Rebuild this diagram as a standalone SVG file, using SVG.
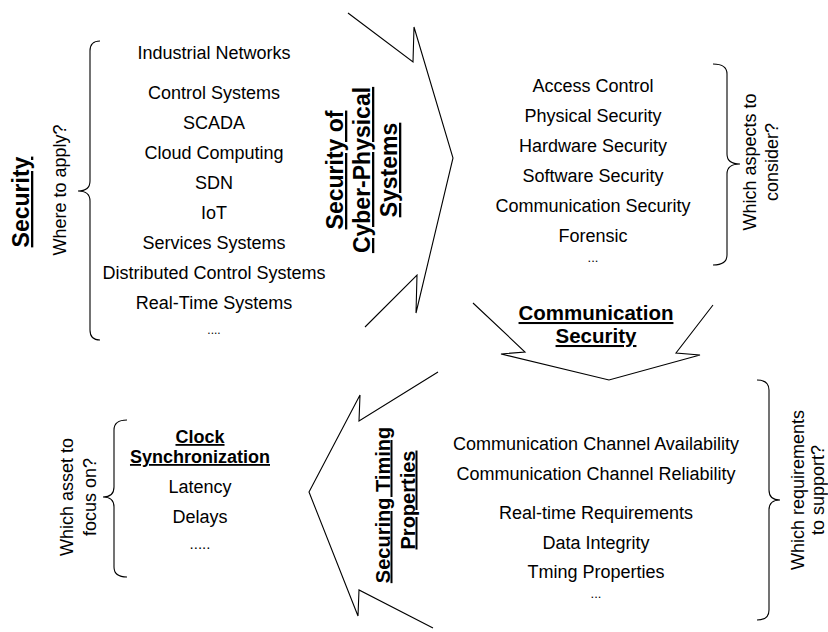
<svg xmlns="http://www.w3.org/2000/svg" width="828" height="632" viewBox="0 0 828 632">
  <style>
    text { font-family: "Liberation Sans", Arial, Helvetica, sans-serif; fill: #000; }
    .item { font-size: 18px; text-anchor: middle; }
    .q { font-size: 18px; text-anchor: middle; }
    .title { font-weight: bold; text-anchor: middle; text-decoration: underline; text-decoration-skip-ink: none; }
    .dots { text-anchor: middle; }
    .brace, .chevron { fill: none; stroke: #000; stroke-width: 1.1; stroke-linejoin: miter; }
  </style>
  <rect width="828" height="632" fill="#fff"/>

  <!-- big open chevron arrows linking the stages -->
  <g id="connectors">
    <polyline class="chevron" points="348,13 413,62 414,27 453,158 416,313 417,275 365,327"/>
    <polyline class="chevron" points="473,303 525,352 501,354 609,380 700,355 676,353 713,305"/>
    <polyline class="chevron" points="438,372 359,421 360,395 309,492 358,616 359,590 433,628"/>
  </g>

  <!-- Security: where to apply -->
  <g id="security">
    <text class="title" font-size="23" transform="translate(29,202) rotate(-90)">Security</text>
    <text class="q" transform="translate(66,190) rotate(-90)">Where to apply?</text>
    <path class="brace" d="M100,41 Q90,41 90,51 L90,181 Q90,191 78,191 Q90,191 90,201 L90,330 Q90,340 100,340"/>
    <text class="item" x="214" y="59">Industrial Networks</text>
    <text class="item" x="214" y="99">Control Systems</text>
    <text class="item" x="214" y="129">SCADA</text>
    <text class="item" x="214" y="159">Cloud Computing</text>
    <text class="item" x="214" y="189">SDN</text>
    <text class="item" x="214" y="219">IoT</text>
    <text class="item" x="214" y="249">Services Systems</text>
    <text class="item" x="214" y="279">Distributed Control Systems</text>
    <text class="item" x="214" y="309">Real-Time Systems</text>
    <text class="dots" font-size="12" x="214" y="334">....</text>
  </g>

  <!-- Security of Cyber-Physical Systems: which aspects -->
  <g id="cps-security">
    <text class="title" font-size="23" transform="translate(343,170) rotate(-90)"><tspan x="0" y="0">Security of</tspan><tspan x="0" y="27">Cyber-Physical</tspan><tspan x="0" y="54">Systems</tspan></text>
    <text class="item" x="593" y="92">Access Control</text>
    <text class="item" x="593" y="122">Physical Security</text>
    <text class="item" x="593" y="152">Hardware Security</text>
    <text class="item" x="593" y="182">Software Security</text>
    <text class="item" x="593" y="212">Communication Security</text>
    <text class="item" x="593" y="242">Forensic</text>
    <text class="dots" font-size="13" x="593" y="262">...</text>
    <path class="brace" d="M713,64 Q727,64 727,74 L727,154 Q727,164 740,164 Q727,164 727,174 L727,255 Q727,265 713,265"/>
    <text class="q" transform="translate(756,162) rotate(-90)"><tspan x="0" y="0">Which aspects to</tspan><tspan x="0" y="22">consider?</tspan></text>
  </g>

  <!-- Communication Security: which requirements -->
  <g id="communication-security">
    <text class="title" font-size="20.5" x="596" y="320">Communication</text>
    <text class="title" font-size="20.5" x="596" y="343">Security</text>
    <text class="item" x="596" y="450">Communication Channel Availability</text>
    <text class="item" x="596" y="480">Communication Channel Reliability</text>
    <text class="item" x="596" y="519">Real-time Requirements</text>
    <text class="item" x="596" y="549">Data Integrity</text>
    <text class="item" x="596" y="578">Tming Properties</text>
    <text class="dots" font-size="13" x="596" y="598">...</text>
    <path class="brace" d="M757,380 Q769,380 769,390 L769,490 Q769,500 780,500 Q769,500 769,510 L769,610 Q769,620 757,620"/>
    <text class="q" transform="translate(804,490) rotate(-90)"><tspan x="0" y="0">Which requirements</tspan><tspan x="0" y="20">to support?</tspan></text>
  </g>

  <!-- Securing Timing Properties: which asset -->
  <g id="timing-properties">
    <text class="title" font-size="20" transform="translate(389.5,505) rotate(-90)">Securing Timing</text>
    <text class="title" font-size="20" transform="translate(414.5,500) rotate(-90)">Properties</text>
    <text class="title" font-size="18" x="200" y="443">Clock</text>
    <text class="title" font-size="18" x="200" y="463">Synchronization</text>
    <text class="item" x="200" y="493">Latency</text>
    <text class="item" x="200" y="523">Delays</text>
    <text class="dots" font-size="15" x="200" y="549">.....</text>
    <path class="brace" d="M127,420 Q114,420 114,430 L114,487 Q114,497 103,497 Q114,497 114,507 L114,567 Q114,577 127,577"/>
    <text class="q" transform="translate(73,497) rotate(-90)"><tspan x="0" y="0">Which asset to</tspan><tspan x="0" y="23">focus on?</tspan></text>
  </g>
</svg>
